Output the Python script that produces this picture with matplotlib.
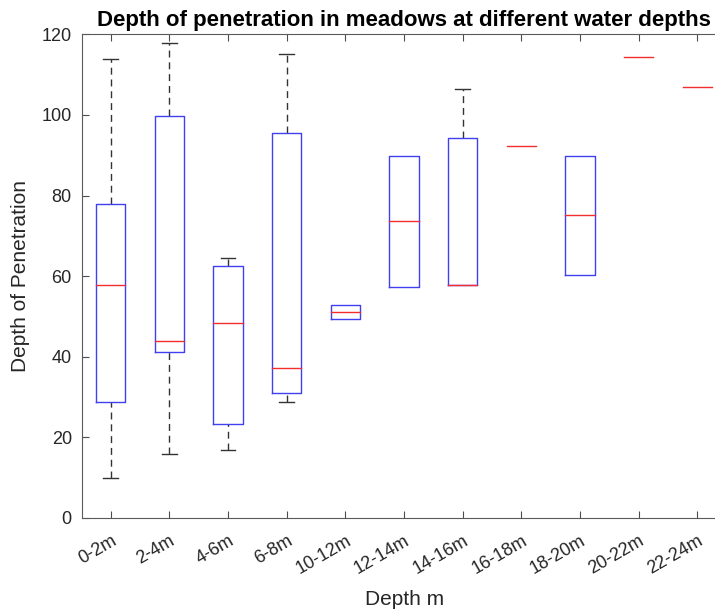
import matplotlib
matplotlib.use("Agg")
import matplotlib.pyplot as plt

plt.rcParams['font.family'] = ['Liberation Sans', 'DejaVu Sans']

categories = ['0-2m', '2-4m', '4-6m', '6-8m', '10-12m', '12-14m', '14-16m',
              '16-18m', '18-20m', '20-22m', '22-24m']
whisker_low = [10.0, 15.9, 16.8, 28.8, 49.4, 57.4, 57.9, 92.4, 60.4, 114.4, 106.9]
q1 = [28.8, 41.1, 23.2, 30.9, 49.4, 57.4, 57.9, 92.4, 60.4, 114.4, 106.9]
median = [57.7, 43.9, 48.4, 37.1, 51.1, 73.7, 57.9, 92.4, 75.1, 114.4, 106.9]
q3 = [77.9, 99.7, 62.5, 95.4, 52.9, 89.9, 94.3, 92.4, 89.9, 114.4, 106.9]
whisker_high = [113.9, 117.8, 64.4, 115.0, 52.9, 89.9, 106.4, 92.4, 89.9, 114.4, 106.9]

W, H = 715, 613
fig = plt.figure(figsize=(W / 100, H / 100), dpi=100)
ax = fig.add_axes([81.5 / W, (H - 518) / H, 645.3 / W, (518 - 34.3) / H])

box_col = (0.25, 0.25, 0.95)
med_col = (0.95, 0.18, 0.18)
hw = 0.25
cw = 0.125
for i in range(len(categories)):
    x = i + 1
    if whisker_high[i] > q3[i]:
        ax.plot([x, x], [q3[i], whisker_high[i]], color='#333333', lw=1.0,
                linestyle=(0, (5, 3.5)), zorder=2)
        ax.plot([x - cw, x + cw], [whisker_high[i]] * 2, color='#333333', lw=1.0, zorder=2)
    if whisker_low[i] < q1[i]:
        ax.plot([x, x], [whisker_low[i], q1[i]], color='#333333', lw=1.0,
                linestyle=(0, (5, 3.5)), zorder=2)
        ax.plot([x - cw, x + cw], [whisker_low[i]] * 2, color='#333333', lw=1.0, zorder=2)
    if q3[i] > q1[i]:
        ax.plot([x - hw, x + hw, x + hw, x - hw, x - hw],
                [q1[i], q1[i], q3[i], q3[i], q1[i]], color=box_col, lw=1.0, zorder=3)
    ax.plot([x - hw, x + hw], [median[i]] * 2, color=med_col, lw=1.0, zorder=4)

ax.set_xlim(0.5, 11.5)
ax.set_ylim(0, 120)
ax.set_yticks([0, 20, 40, 60, 80, 100, 120])
ax.set_xticks(range(1, len(categories) + 1))
ax.set_xticklabels(categories, rotation=30, ha='right', rotation_mode='anchor')

ax.tick_params(direction='in', length=5, width=0.8, colors='#4d4d4d',
               labelcolor='#262626', labelsize=13, top=True, right=True)
ax.tick_params(axis='x', pad=10)
ax.tick_params(axis='y', pad=7)
for s in ax.spines.values():
    s.set_color('#5a5a5a')
    s.set_linewidth(0.8)

ax.set_title('Depth of penetration in meadows at different water depths',
             fontsize=16, fontweight='bold', pad=6)
ax.set_xlabel('Depth m', fontsize=15, color='#262626', labelpad=9)
ax.set_ylabel('Depth of Penetration', fontsize=15, color='#262626', labelpad=8)

fig.savefig('out.png', dpi=100)
